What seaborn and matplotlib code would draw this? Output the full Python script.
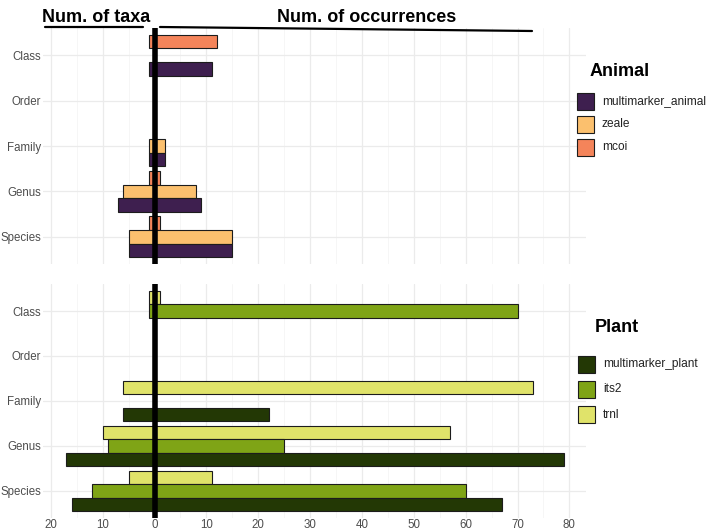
import numpy as np
import pandas as pd
import matplotlib
matplotlib.use("Agg")
import matplotlib.pyplot as plt
import seaborn as sns
from matplotlib.patches import Rectangle
from matplotlib.lines import Line2D
from matplotlib.ticker import MultipleLocator, FixedLocator, FuncFormatter

# ---------------- data ----------------
categories = ["Class", "Order", "Family", "Genus", "Species"]

animal_markers = ["mcoi", "zeale", "multimarker_animal"]
animal_taxa = {
    "mcoi": [1, 0, 0, 1, 1],
    "zeale": [0, 0, 1, 6, 5],
    "multimarker_animal": [1, 0, 1, 7, 5],
}
animal_occ = {
    "mcoi": [12, 0, 0, 1, 1],
    "zeale": [0, 0, 2, 8, 15],
    "multimarker_animal": [11, 0, 2, 9, 15],
}
animal_colors = {"mcoi": "#F4845A", "zeale": "#FBC06E", "multimarker_animal": "#3E1F4F"}

plant_markers = ["trnl", "its2", "multimarker_plant"]
plant_taxa = {
    "trnl": [1, 0, 6, 10, 5],
    "its2": [1, 0, 0, 9, 12],
    "multimarker_plant": [0, 0, 6, 17, 16],
}
plant_occ = {
    "trnl": [1, 0, 73, 57, 11],
    "its2": [70, 0, 0, 25, 60],
    "multimarker_plant": [0, 0, 22, 79, 67],
}
plant_colors = {"trnl": "#E0E36A", "its2": "#7FA416", "multimarker_plant": "#233805"}

x_ticks = [-20, -10, 0, 10, 20, 30, 40, 50, 60, 70, 80]

# ---------------- style ----------------
sns.set_style("white")
plt.rcParams["font.family"] = ["Liberation Sans", "DejaVu Sans"]

W, H = 709, 532
fig = plt.figure(figsize=(W / 100, H / 100), dpi=100)


def fx(px):
    return px / W


def fy(py):
    return 1 - py / H


left, right = 43, 586
ax_top = fig.add_axes([fx(left), fy(264), fx(right - left), (264 - 28) / H])
ax_bot = fig.add_axes([fx(left), fy(518), fx(right - left), (518 - 284) / H])

GRID = "#EBEBEB"
TXT = "#4D4D4D"
EDGE = "#1c1c1c"


def long_df(markers, taxa, occ):
    rows = []
    for m in markers:
        for c, t, o in zip(categories, taxa[m], occ[m]):
            rows.append({"category": c, "marker": m, "taxa": -t, "occ": o})
    return pd.DataFrame(rows)


def draw(ax, markers, taxa, occ, colors, show_x):
    df = long_df(markers, taxa, occ)
    for col in ["taxa", "occ"]:
        sns.barplot(data=df, y="category", x=col, hue="marker",
                    order=categories, hue_order=markers, palette=colors,
                    saturation=1, width=0.9, edgecolor=EDGE, linewidth=0.8,
                    errorbar=None, legend=False, ax=ax, zorder=2)
    ax.set_xlim(-21.5, 83.2)
    ax.set_ylim(len(categories) - 1 + 0.6, -0.6)
    ax.set_xlabel("")
    ax.set_ylabel("")
    for s in ax.spines.values():
        s.set_visible(False)
    ax.xaxis.set_major_locator(FixedLocator(x_ticks))
    ax.xaxis.set_minor_locator(MultipleLocator(5))
    ax.xaxis.set_major_formatter(FuncFormatter(lambda v, p: f"{abs(int(round(v)))}"))
    ax.grid(False)
    ax.set_axisbelow(True)
    ax.xaxis.grid(True, which="major", color=GRID, lw=0.9, zorder=0)
    ax.xaxis.grid(True, which="minor", color="#F3F3F3", lw=0.5, zorder=0)
    ax.yaxis.grid(True, which="major", color=GRID, lw=0.9, zorder=0)
    ax.tick_params(axis="both", which="both", length=0)
    ax.tick_params(axis="y", pad=1.5, labelsize=8.3, labelcolor=TXT)
    ax.tick_params(axis="x", pad=1.0, labelsize=8.3, labelcolor=TXT)
    if not show_x:
        ax.tick_params(axis="x", labelbottom=False)
    ax.axvline(0, color="black", lw=4.0, zorder=5)


draw(ax_top, animal_markers, animal_taxa, animal_occ, animal_colors, False)
draw(ax_bot, plant_markers, plant_taxa, plant_occ, plant_colors, True)

# ---------------- header ----------------
fig.text(fx(42), fy(17), "Num. of taxa", fontsize=13, fontweight="bold",
         ha="left", va="center", color="black")
fig.text(fx(277), fy(17), "Num. of occurrences", fontsize=13, fontweight="bold",
         ha="left", va="center", color="black")
fig.add_artist(Line2D([fx(45), fx(143)], [fy(27), fy(27)], color="black", lw=1.6,
                      transform=fig.transFigure))
fig.add_artist(Line2D([fx(160), fx(532)], [fy(27), fy(31)], color="black", lw=1.6,
                      transform=fig.transFigure))


# ---------------- legends ----------------
def legend(title, title_x, title_y, markers, colors, key_x, first_y, step):
    fig.text(fx(title_x), fy(title_y), title, fontsize=13, fontweight="bold",
             ha="left", va="center", color="black")
    order = list(reversed(markers))
    size = 17
    for i, m in enumerate(order):
        cy = first_y + i * step
        fig.add_artist(Rectangle((fx(key_x), fy(cy + size / 2)), size / W, size / H,
                                 facecolor=colors[m], edgecolor=EDGE, lw=0.8,
                                 transform=fig.transFigure))
        fig.text(fx(key_x + size + 8), fy(cy), m, fontsize=8.6, ha="left",
                 va="center", color="#222222")


legend("Animal", 590, 72, animal_markers, animal_colors, 577, 101, 23)
legend("Plant", 595, 327, plant_markers, plant_colors, 578, 364.5, 25)

fig.savefig("out.png", dpi=100)
